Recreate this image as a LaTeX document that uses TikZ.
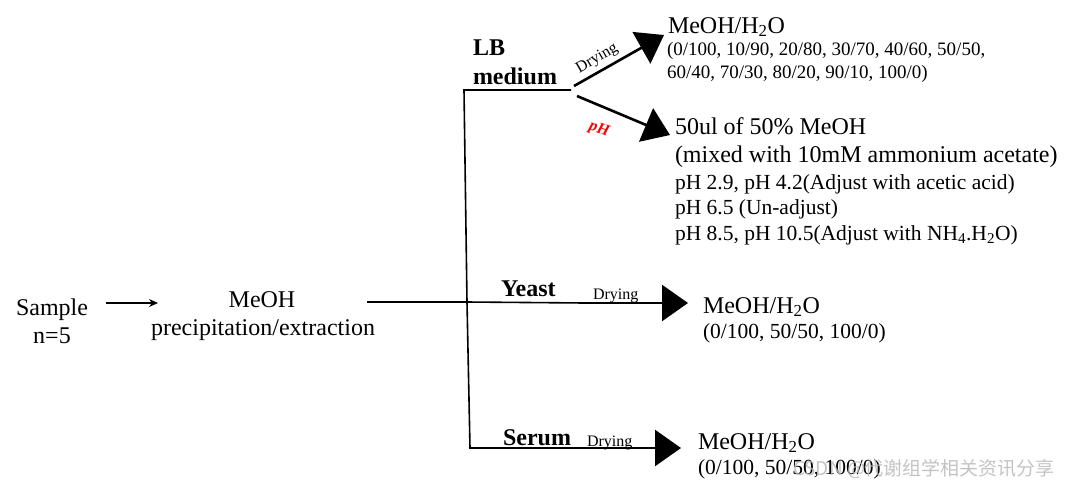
\documentclass[tikz,border=0pt]{standalone}
\usepackage{fontspec}
\setmainfont{Liberation Serif}
\newfontfamily\wmfont{Noto Sans CJK SC}
\usetikzlibrary{arrows.meta}
\tikzset{
  txt/.style={anchor=base west, inner sep=0pt, outer sep=0pt},
  big/.style={txt, font=\fontsize{24}{28}\selectfont},
  mid/.style={txt, font=\fontsize{21.5}{25}\selectfont},
  sml/.style={txt, font=\fontsize{19}{22}\selectfont},
  bld/.style={txt, font=\fontsize{24}{28}\selectfont\bfseries},
  dry/.style={txt, font=\fontsize{16}{18}\selectfont},
  frame/.style={line width=1.6pt},
  bigarrow/.style={line width=2.6pt, -{Triangle[length=26pt,width=36pt]}},
  smallarrow/.style={line width=1.3pt, -{Stealth[length=9pt,width=8pt]}}
}
\begin{document}
\begin{tikzpicture}[x=1pt,y=-1pt]
\useasboundingbox (0,0) rectangle (1080,491);
% left side
\node[big, anchor=base] (sample) at (52,315) {Sample};
\node[big, anchor=base] (n5) at (52,343) {n=5};
\node[big, anchor=base] (meoh) at (262,307) {MeOH};
\node[big, anchor=base] (prec) at (263,335) {precipitation/extraction};
\coordinate (a1s) at (106,303);
\coordinate (a1e) at (158,303);
\draw[smallarrow] (a1s) -- (a1e);
% tree
\coordinate (mainstart) at (367,302);
\coordinate (jtop) at (464,90);
\coordinate (jmid) at (467,302);
\coordinate (jbot) at (470,448);
\coordinate (lbend) at (571,90);
\coordinate (yst) at (585,303);
\coordinate (yend) at (688,303);
\coordinate (sst) at (576,448);
\coordinate (send) at (681,448);
\draw[frame] (lbend) -- (jtop) -- (jmid) -- (jbot) -- (sst);
\draw[frame] (mainstart) -- (jmid) -- (yst);
\draw[bigarrow] (yst) -- (yend);
\draw[bigarrow] (sst) -- (send);
% LB branches
\coordinate (d1s) at (574,86);
\coordinate (d1e) at (664,35);
\coordinate (d2s) at (577,96);
\coordinate (d2e) at (670,135);
\draw[bigarrow] (d1s) -- (d1e);
\draw[bigarrow] (d2s) -- (d2e);
% labels
\node[bld] (lb) at (473,55) {LB};
\node[bld] (medium) at (473,84) {medium};
\node[bld] (yeast) at (501,296) {Yeast};
\node[bld] (serum) at (503,445) {Serum};
\node[dry, anchor=base, rotate=30] (dry1) at (599,62) {Drying};
\node[txt, anchor=base, rotate=-18, text=red, font=\fontsize{16}{18}\selectfont\bfseries\itshape] (ph) at (598,133) {pH};
\node[dry] (dry2) at (593,299) {Drying};
\node[dry] (dry3) at (587,446) {Drying};
% top right text
\node[big] (t1) at (668,33) {MeOH/H\textsubscript{2}O};
\node[sml] (t2) at (667,55) {(0/100, 10/90, 20/80, 30/70, 40/60, 50/50,};
\node[sml] (t3) at (667,78) {60/40, 70/30, 80/20, 90/10, 100/0)};
\node[big] (p1) at (675,134) {50ul of 50\% MeOH};
\node[big] (p2) at (675,162) {(mixed with 10mM ammonium acetate)};
\node[mid] (p3) at (675,189) {pH 2.9, pH 4.2(Adjust with acetic acid)};
\node[mid] (p4) at (675,214) {pH 6.5 (Un-adjust)};
\node[mid] (p5) at (675,240) {pH 8.5, pH 10.5(Adjust with NH\textsubscript{4}.H\textsubscript{2}O)};
% yeast text
\node[big] (y1) at (703,313) {MeOH/H\textsubscript{2}O};
\node[mid] (y2) at (703,338) {(0/100, 50/50, 100/0)};
% serum text
\node[big] (s1) at (698,449) {MeOH/H\textsubscript{2}O};
\node[mid] (s2) at (698,474) {(0/100, 50/50, 100/0)};
% watermark
\node[txt, text=gray!55, opacity=0.85, font=\wmfont\fontsize{19}{22}\selectfont] (wm) at (793,475) {CSDN @代谢组学相关资讯分享};
\end{tikzpicture}
\end{document}
